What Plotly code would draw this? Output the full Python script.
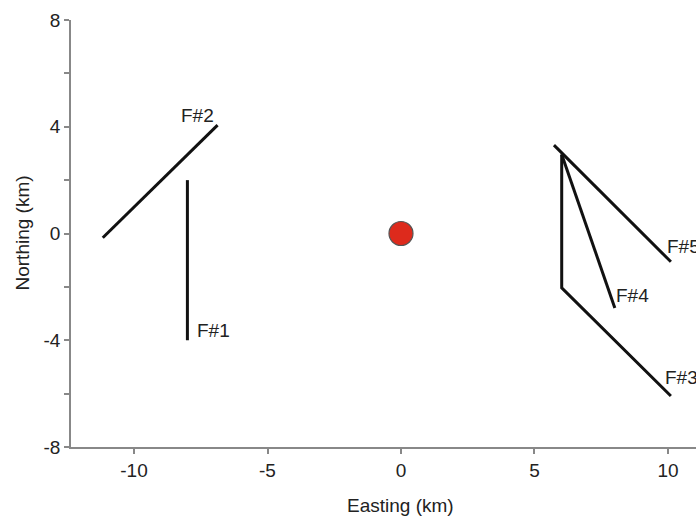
import plotly.graph_objects as go

# Fault traces (Easting km, Northing km)
f1_x = [-8.0, -8.0]
f1_y = [2.0, -4.0]
f2_x = [-11.17, -6.87]
f2_y = [-0.16, 4.06]
f3_x = [6.02, 6.02, 10.11]
f3_y = [2.96, -2.04, -6.09]
f4_x = [6.02, 8.01]
f4_y = [2.96, -2.79]
f5_x = [5.73, 10.11]
f5_y = [3.31, -1.06]

# Station / epicentre
src_x = [0.0]
src_y = [0.0]

# Labels
label_text = ["F#1", "F#2", "F#3", "F#4", "F#5"]
label_x = [-7.6, -8.2, 9.91, 8.1, 9.99]
label_y = [-3.64, 4.41, -5.41, -2.31, -0.48]

x_tickvals = [-10, -5, 0, 5, 10]
x_ticktext = ["-10", "-5", "0", "5", "10"]
y_tickvals = [-8, -6, -4, -2, 0, 2, 4, 6, 8]
y_ticktext = ["-8", "", "-4", "", "0", "", "4", "", "8"]

FONT = "Liberation Sans, Arial, sans-serif"
FS = 19
fig = go.Figure()
for xs, ys in [(f1_x, f1_y), (f2_x, f2_y), (f3_x, f3_y), (f4_x, f4_y), (f5_x, f5_y)]:
    fig.add_trace(go.Scatter(x=xs, y=ys, mode="lines",
                             line=dict(color="#111111", width=3), showlegend=False,
                             hoverinfo="skip"))

fig.add_trace(go.Scatter(x=src_x, y=src_y, mode="markers",
                         marker=dict(size=24, color="#dd2a1c",
                                     line=dict(color="#555555", width=1.2)),
                         showlegend=False))

for t, x, y in zip(label_text, label_x, label_y):
    fig.add_annotation(x=x, y=y, text=t, showarrow=False, xanchor="left",
                       yanchor="middle", xshift=-3,
                       font=dict(size=FS, color="#222222", family=FONT))

# axis titles
fig.add_annotation(x=0, y=0, xref="x", yref="paper", yshift=-58, text="Easting (km)",
                   showarrow=False, xanchor="center", yanchor="middle",
                   font=dict(size=FS, color="#222222", family=FONT))
fig.add_annotation(x=0, y=0, xref="paper", yref="y", xshift=-49, text="Northing (km)",
                   showarrow=False, textangle=-90, xanchor="center", yanchor="middle",
                   font=dict(size=FS, color="#222222", family=FONT))

fig.update_layout(
    width=696, height=516,
    margin=dict(l=71, r=0, t=20, b=69),
    plot_bgcolor="white", paper_bgcolor="white",
    font=dict(family=FONT, size=FS, color="#222222"),
    xaxis=dict(range=[-12.36, 11.05], tickvals=x_tickvals, ticktext=x_ticktext,
               showgrid=False, zeroline=False, showline=True, linecolor="#888888",
               linewidth=1.5, ticks="outside", ticklen=5, tickcolor="#888888",
               tickwidth=1.5, automargin=False),
    yaxis=dict(range=[-8, 8], tickvals=y_tickvals, ticktext=y_ticktext,
               showgrid=False, zeroline=False, showline=True, linecolor="#888888",
               linewidth=1.5, ticks="outside", ticklen=5, tickcolor="#888888",
               tickwidth=1.5, automargin=False),
)

fig.write_html("out.html", config={"displayModeBar": False},
               post_script="document.body.style.margin='0';document.body.style.overflow='hidden';")
